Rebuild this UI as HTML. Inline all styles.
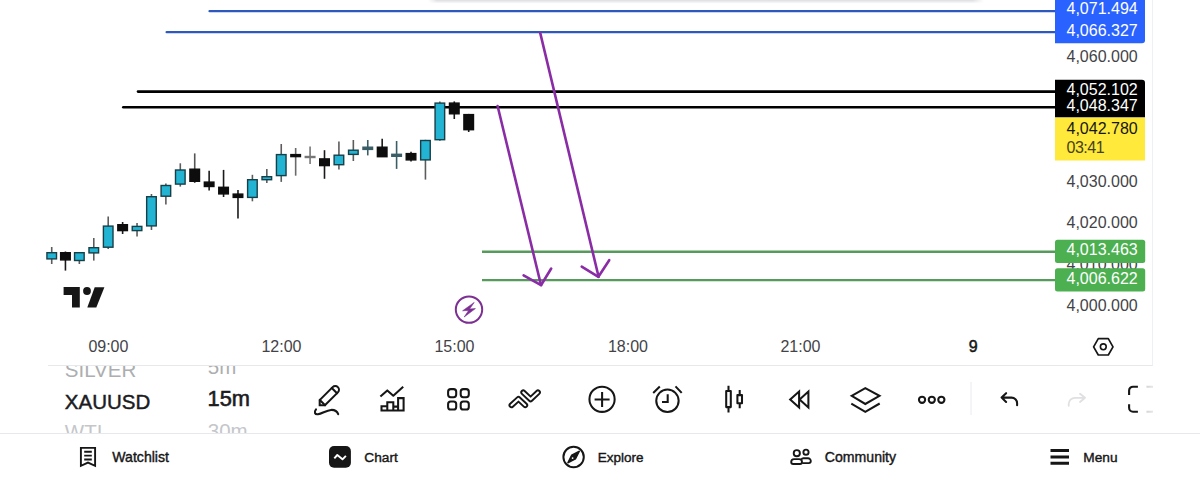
<!DOCTYPE html>
<html><head><meta charset="utf-8">
<style>
html,body{margin:0;padding:0;background:#fff;width:1200px;height:482px;overflow:hidden;}
svg{position:absolute;left:0;top:0;}
text{font-family:"Liberation Sans",sans-serif;}
</style></head><body>
<svg width="1200" height="482" viewBox="0 0 1200 482">
<defs>
<linearGradient id="shv" x1="0" y1="0" x2="0" y2="1">
<stop offset="0" stop-color="#dde0dd"/><stop offset="0.55" stop-color="#f1eff6"/><stop offset="1" stop-color="#fff" stop-opacity="0"/>
</linearGradient>
<linearGradient id="fadeR" x1="0" y1="0" x2="1" y2="0">
<stop offset="0" stop-color="#fff" stop-opacity="0"/><stop offset="0.45" stop-color="#fff" stop-opacity="0.8"/><stop offset="1" stop-color="#fff" stop-opacity="0.9"/>
</linearGradient>
<linearGradient id="shh" x1="428" y1="0" x2="984" y2="0" gradientUnits="userSpaceOnUse">
<stop offset="0" stop-color="#fff" stop-opacity="0"/><stop offset="0.016" stop-color="#fff"/><stop offset="0.98" stop-color="#fff"/><stop offset="1" stop-color="#fff" stop-opacity="0"/>
</linearGradient>
<mask id="shm" maskUnits="userSpaceOnUse" x="0" y="0" width="1200" height="10"><rect x="428" y="0" width="556" height="4" fill="url(#shh)"/></mask>
</defs>
<!-- top popup shadow -->
<rect x="428" y="0" width="556" height="4" fill="url(#shv)" mask="url(#shm)"/>
<!-- right axis border -->
<line x1="1152.5" y1="0" x2="1152.5" y2="366" stroke="#eef0f3" stroke-width="1"/>
<!-- horizontal lines -->
<line x1="209.5" y1="11.2" x2="1056" y2="11.2" stroke="#2e58bd" stroke-width="2.2" stroke-linecap="round"/>
<line x1="166.6" y1="32.2" x2="1056" y2="32.2" stroke="#2e58bd" stroke-width="2.2" stroke-linecap="round"/>
<line x1="138" y1="91.6" x2="1056" y2="91.6" stroke="#000" stroke-width="2.6" stroke-linecap="round"/>
<line x1="123.3" y1="107.2" x2="1056" y2="107.2" stroke="#000" stroke-width="2.6" stroke-linecap="round"/>
<line x1="482" y1="251.8" x2="1056" y2="251.8" stroke="#569b5b" stroke-width="2.4"/>
<line x1="482" y1="280.1" x2="1056" y2="280.1" stroke="#569b5b" stroke-width="2.4"/>
<line x1="51.72" y1="247" x2="51.72" y2="264" stroke="#5c5c5c" stroke-width="1.6"/>
<rect x="46.92" y="252.7" width="9.60" height="6.20" fill="#22b4d2" stroke="#173f48" stroke-width="1.4"/>
<line x1="65.44" y1="251.5" x2="65.44" y2="270.6" stroke="#1a1a1a" stroke-width="1.6"/>
<rect x="60.64" y="252.7" width="9.60" height="7.20" fill="#0d0d0d" stroke="#0d0d0d" stroke-width="1.4"/>
<line x1="79.36" y1="252" x2="79.36" y2="264" stroke="#5c5c5c" stroke-width="1.6"/>
<rect x="74.56" y="252.7" width="9.60" height="7.80" fill="#22b4d2" stroke="#173f48" stroke-width="1.4"/>
<line x1="93.78" y1="238" x2="93.78" y2="260.6" stroke="#5c5c5c" stroke-width="1.6"/>
<rect x="88.98" y="247.7" width="9.60" height="5.20" fill="#22b4d2" stroke="#173f48" stroke-width="1.4"/>
<line x1="108.20" y1="216.6" x2="108.20" y2="249" stroke="#5c5c5c" stroke-width="1.6"/>
<rect x="103.40" y="226.1" width="9.60" height="21.10" fill="#22b4d2" stroke="#173f48" stroke-width="1.4"/>
<line x1="122.62" y1="222" x2="122.62" y2="234" stroke="#1a1a1a" stroke-width="1.6"/>
<rect x="117.82" y="224.7" width="9.60" height="5.90" fill="#0d0d0d" stroke="#0d0d0d" stroke-width="1.4"/>
<line x1="137.04" y1="223" x2="137.04" y2="236.5" stroke="#5c5c5c" stroke-width="1.6"/>
<rect x="132.24" y="226.39999999999998" width="9.60" height="4.20" fill="#22b4d2" stroke="#173f48" stroke-width="1.4"/>
<line x1="151.46" y1="194" x2="151.46" y2="230" stroke="#5c5c5c" stroke-width="1.6"/>
<rect x="146.66" y="196.7" width="9.60" height="29.20" fill="#22b4d2" stroke="#173f48" stroke-width="1.4"/>
<line x1="165.88" y1="183.5" x2="165.88" y2="204.4" stroke="#5c5c5c" stroke-width="1.6"/>
<rect x="161.08" y="185.5" width="9.60" height="10.70" fill="#22b4d2" stroke="#173f48" stroke-width="1.4"/>
<line x1="180.30" y1="163.3" x2="180.30" y2="186.6" stroke="#5c5c5c" stroke-width="1.6"/>
<rect x="175.50" y="170.0" width="9.60" height="14.10" fill="#22b4d2" stroke="#173f48" stroke-width="1.4"/>
<line x1="194.72" y1="153.4" x2="194.72" y2="183" stroke="#555" stroke-width="1.6"/>
<rect x="189.92" y="169.2" width="9.60" height="12.10" fill="#0d0d0d" stroke="#0d0d0d" stroke-width="1.4"/>
<line x1="209.14" y1="170.8" x2="209.14" y2="190.4" stroke="#1a1a1a" stroke-width="1.6"/>
<rect x="204.34" y="182.1" width="9.60" height="4.40" fill="#0d0d0d" stroke="#0d0d0d" stroke-width="1.4"/>
<line x1="223.56" y1="169.9" x2="223.56" y2="197" stroke="#1a1a1a" stroke-width="1.6"/>
<rect x="218.76" y="187.29999999999998" width="9.60" height="6.60" fill="#0d0d0d" stroke="#0d0d0d" stroke-width="1.4"/>
<line x1="237.98" y1="190" x2="237.98" y2="218.6" stroke="#1a1a1a" stroke-width="1.6"/>
<rect x="233.18" y="194.1" width="9.60" height="3.30" fill="#0d0d0d" stroke="#0d0d0d" stroke-width="1.4"/>
<line x1="252.40" y1="174.8" x2="252.40" y2="201.3" stroke="#5c5c5c" stroke-width="1.6"/>
<rect x="247.60" y="179.7" width="9.60" height="17.70" fill="#22b4d2" stroke="#173f48" stroke-width="1.4"/>
<line x1="266.82" y1="169" x2="266.82" y2="183" stroke="#5c5c5c" stroke-width="1.6"/>
<rect x="262.02" y="176.7" width="9.60" height="3.00" fill="#22b4d2" stroke="#173f48" stroke-width="1.4"/>
<line x1="281.24" y1="144" x2="281.24" y2="181.9" stroke="#5c5c5c" stroke-width="1.6"/>
<rect x="276.44" y="154.6" width="9.60" height="21.00" fill="#22b4d2" stroke="#173f48" stroke-width="1.4"/>
<line x1="295.66" y1="148" x2="295.66" y2="175.7" stroke="#6a6a6a" stroke-width="1.6"/>
<rect x="290.86" y="154.6" width="9.60" height="2.00" fill="#0d0d0d" stroke="#0d0d0d" stroke-width="1.4"/>
<line x1="310.08" y1="146.4" x2="310.08" y2="164" stroke="#777" stroke-width="1.6"/>
<rect x="305.28" y="156.5" width="9.60" height="1.00" fill="#777" stroke="#777" stroke-width="1.4"/>
<line x1="324.50" y1="150.2" x2="324.50" y2="178.8" stroke="#1a1a1a" stroke-width="1.6"/>
<rect x="319.70" y="158.89999999999998" width="9.60" height="6.70" fill="#0d0d0d" stroke="#0d0d0d" stroke-width="1.4"/>
<line x1="338.92" y1="141.5" x2="338.92" y2="169.4" stroke="#5c5c5c" stroke-width="1.6"/>
<rect x="334.12" y="155.2" width="9.60" height="9.50" fill="#22b4d2" stroke="#173f48" stroke-width="1.4"/>
<line x1="353.34" y1="140" x2="353.34" y2="161" stroke="#5c5c5c" stroke-width="1.6"/>
<rect x="348.54" y="150.2" width="9.60" height="4.20" fill="#22b4d2" stroke="#173f48" stroke-width="1.4"/>
<line x1="367.76" y1="140" x2="367.76" y2="155.4" stroke="#3a5e66" stroke-width="1.6"/>
<rect x="362.96" y="147.2" width="9.60" height="2.20" fill="#3a5e66" stroke="#3a5e66" stroke-width="1.4"/>
<line x1="382.18" y1="138.7" x2="382.18" y2="156.8" stroke="#1a1a1a" stroke-width="1.6"/>
<rect x="377.38" y="147.2" width="9.60" height="9.50" fill="#0d0d0d" stroke="#0d0d0d" stroke-width="1.4"/>
<line x1="396.60" y1="141" x2="396.60" y2="168.9" stroke="#3a5e66" stroke-width="1.6"/>
<rect x="391.80" y="154.29999999999998" width="9.60" height="2.00" fill="#3a5e66" stroke="#3a5e66" stroke-width="1.4"/>
<line x1="411.02" y1="151.8" x2="411.02" y2="161.6" stroke="#1a1a1a" stroke-width="1.6"/>
<rect x="406.22" y="153.6" width="9.60" height="6.30" fill="#0d0d0d" stroke="#0d0d0d" stroke-width="1.4"/>
<line x1="425.44" y1="139.8" x2="425.44" y2="179.6" stroke="#5c5c5c" stroke-width="1.6"/>
<rect x="420.64" y="140.5" width="9.60" height="19.40" fill="#22b4d2" stroke="#173f48" stroke-width="1.4"/>
<line x1="439.86" y1="101.4" x2="439.86" y2="140.8" stroke="#5c5c5c" stroke-width="1.6"/>
<rect x="435.06" y="103.10000000000001" width="9.60" height="36.60" fill="#22b4d2" stroke="#173f48" stroke-width="1.4"/>
<line x1="454.28" y1="101.4" x2="454.28" y2="119" stroke="#1a1a1a" stroke-width="1.6"/>
<rect x="449.48" y="103.10000000000001" width="9.60" height="10.70" fill="#0d0d0d" stroke="#0d0d0d" stroke-width="1.4"/>
<line x1="468.70" y1="113.9" x2="468.70" y2="132" stroke="#1a1a1a" stroke-width="1.6"/>
<rect x="463.90" y="114.60000000000001" width="9.60" height="15.10" fill="#0d0d0d" stroke="#0d0d0d" stroke-width="1.4"/>
<!-- purple arrows -->
<g stroke="#8a2ca6" stroke-width="2.6" fill="none" stroke-linecap="round" stroke-linejoin="round">
<line x1="497.6" y1="106" x2="541" y2="285"/>
<polyline points="523.6,275.3 541,285.2 551.2,268.5"/>
<line x1="540.2" y1="32.9" x2="598.6" y2="276.8"/>
<polyline points="581.7,266.6 598.4,276.8 609.2,260.2"/>
</g>
<!-- lightning -->
<circle cx="469" cy="309.6" r="13.2" fill="none" stroke="#7d2f92" stroke-width="2"/>
<path d="M474.2,302.4 L462.6,310.8 L468.6,310.4 L464.2,317 L475.4,308.6 L469.6,309 Z" fill="#7d2f92" stroke="#7d2f92" stroke-width="0.6" stroke-linejoin="round"/>
<!-- TV logo -->
<g fill="#161616">
<path d="M63.6,287.1 H79.8 V307.5 H72 V295.1 H63.6 Z"/>
<circle cx="87" cy="291" r="3.9"/>
<path d="M94.7,287.2 H104.4 L96.3,307.5 H87.3 Z"/>
</g>
<!-- price axis text -->
<g font-size="16" fill="#434347" text-anchor="end">
<text x="1137.7" y="62">4,060.000</text>
<text x="1137.7" y="186.5">4,030.000</text>
<text x="1137.7" y="228">4,020.000</text>
<text x="1137.7" y="269.5">4,010.000</text>
<text x="1137.7" y="311">4,000.000</text>
</g>
<!-- label boxes -->
<path d="M1055,0 H1145 V40.3 a3,3 0 0 1 -3,3 H1055 Z" fill="#2962ff"/>
<path d="M1055,117.5 V79.8 H1142 a3,3 0 0 1 3,3 V117.5 Z" fill="#000"/>
<rect x="1055" y="117.5" width="90" height="43" fill="#ffe93b"/>
<rect x="1055" y="239.7" width="90.2" height="23.2" rx="2.5" fill="#4caf50"/>
<rect x="1055" y="268.3" width="90.2" height="23.2" rx="2.5" fill="#4caf50"/>
<g font-size="16" fill="#fff" text-anchor="end">
<text x="1137.7" y="14.3">4,071.494</text>
<text x="1137.7" y="35.5">4,066.327</text>
<text x="1137.7" y="95">4,052.102</text>
<text x="1137.7" y="110.7">4,048.347</text>
</g>
<g font-size="16" fill="#fff" text-anchor="end">
<text x="1137.7" y="255.3">4,013.463</text>
<text x="1137.7" y="283.6">4,006.622</text>
</g>
<g font-size="16" fill="#161616" text-anchor="end">
<text x="1137.7" y="133.5">4,042.780</text>
</g>
<text x="1066.5" y="153.4" font-size="16" fill="#45411f" letter-spacing="-0.5">03:41</text>
<!-- time axis -->
<g font-size="16" fill="#434347" text-anchor="middle">
<text x="108.4" y="352.3">09:00</text>
<text x="281.5" y="352.3">12:00</text>
<text x="454.5" y="352.3">15:00</text>
<text x="628" y="352.3">18:00</text>
<text x="800.5" y="352.3">21:00</text>
<text x="973.3" y="352.3" fill="#161616" stroke="#161616" stroke-width="0.5">9</text>
</g>
<!-- settings hex -->
<path d="M1098.3,338.6 H1108.3 L1113,346.8 L1108.3,355 H1098.3 L1093.6,346.8 Z" fill="none" stroke="#161616" stroke-width="1.7" stroke-linejoin="round"/>
<circle cx="1103.3" cy="346.8" r="2.9" fill="none" stroke="#161616" stroke-width="1.6"/>
<!-- separators -->
<line x1="48" y1="365.5" x2="1152.5" y2="365.5" stroke="#e6e8ec" stroke-width="1"/>
<line x1="0" y1="433.5" x2="1200" y2="433.5" stroke="#e6e8ec" stroke-width="1"/>

<!-- symbol list -->
<clipPath id="symclip"><rect x="0" y="366" width="1200" height="67"/></clipPath>
<g clip-path="url(#symclip)">
<g font-size="20.5">
<text x="64.8" y="376.5" fill="#acaeb0">SILVER</text>
<text x="64.8" y="409.2" fill="#1c1c1f" stroke="#1c1c1f" stroke-width="0.45">XAUUSD</text>
<text x="64.8" y="439.2" fill="#c4c6ca">WTI</text>
<text x="207.8" y="373.6" fill="#acaeb0">5m</text>
<text x="207.6" y="406.3" fill="#1c1c1f" stroke="#1c1c1f" stroke-width="0.6" font-size="21.8">15m</text>
<text x="207.8" y="437.7" fill="#c4c6ca">30m</text>
</g>
</g>
<g fill="none" stroke="#161616" stroke-width="2.05" stroke-linecap="round" stroke-linejoin="round">
<!-- pencil -->
<g transform="translate(319.7,405.3) rotate(-45)">
<path d="M0,0 L3.7,-3.7 H22 A3.7,3.7 0 0 1 22,3.7 H3.7 Z" stroke-linejoin="miter"/>
<line x1="3.9" y1="-3.7" x2="3.9" y2="3.7"/>
<line x1="20.8" y1="-3.7" x2="20.8" y2="3.7"/>
</g>
<path d="M316,409.3 C313.8,412.2 314.8,414.6 318,414.2 C322,413.6 326.5,410.2 331,409.9 C335,409.7 337.4,412 338.2,414.2"/>
<!-- chart -->
<polyline points="380.4,396.6 387.3,390.4 393.3,395.7 403.2,386.7" stroke-linecap="butt"/>
<path d="M381.5,410.4 V406.3 H387.3 V402.2 H393.3 V406.6 H398.1 V398.1 H403.6 V410.4 Z M387.3,406.3 V410.4 M393.3,406.6 V410.4 M398.1,406.6 V410.4" stroke-linejoin="miter" stroke-linecap="butt"/>
<!-- grid -->
<rect x="448.1" y="389.1" width="8.1" height="8.1" rx="2.6"/>
<rect x="460.7" y="389.1" width="8.1" height="8.1" rx="2.6"/>
<rect x="448.1" y="401.4" width="8.1" height="8.1" rx="2.6"/>
<rect x="460.7" y="401.4" width="8.1" height="8.1" rx="2.6"/>
<!-- plus circle -->
<circle cx="602.05" cy="399.25" r="12.6"/>
<path d="M594.6,399.4 H609.6 M602.1,392 V407" stroke-linecap="butt"/>
<!-- alarm -->
<circle cx="667.45" cy="400.8" r="11.2"/>
<path d="M667.7,394.2 V401.9 H662" stroke-linecap="butt" stroke-linejoin="miter"/>
<path d="M653.2,392.9 L659.8,386.4 M675.5,386.4 L681.7,392.9" stroke-linecap="butt"/>
<!-- candles icon -->
<rect x="726.2" y="390.9" width="4.6" height="16.2"/>
<rect x="737.4" y="395.1" width="4.6" height="8.2"/>
<path d="M728.5,385.8 V390.9 M728.5,407.1 V412.5 M739.7,390 V395.1 M739.7,403.3 V408.3" stroke-linecap="butt"/>
<!-- rewind -->
<path d="M799.1,391.6 V407.4 L790.2,399.5 Z M808.4,391.6 V407.4 L799.6,399.5 Z" stroke-linejoin="miter"/>
<!-- layers -->
<path d="M851.7,395.8 L865.3,388.1 L879.5,395.8 L865.3,404 Z" stroke-linejoin="miter"/>
<polyline points="851.3,403.6 865.3,411.9 879.7,403.5" stroke-linecap="butt" stroke-linejoin="miter"/>
<!-- dots -->
<circle cx="922.05" cy="399.75" r="3.1"/>
<circle cx="931.8" cy="399.75" r="3.1"/>
<circle cx="941.35" cy="399.75" r="3.1"/>
<!-- undo -->
<path d="M1006.1,393.2 L1001.6,397.6 L1006.1,402 M1001.8,397.6 H1011.5 A5.6,5.6 0 0 1 1017.1,403.2 V405.2" stroke-linecap="round"/>
<!-- fullscreen -->
<path d="M1137.9,386.7 H1133 A3.9,3.9 0 0 0 1129.1,390.6 V395 M1129.1,404.2 V407.8 A3.9,3.9 0 0 0 1133,411.7 H1137.9 M1146.5,386.7 H1152 A3.9,3.9 0 0 1 1155.9,390.6 V395 M1155.9,404.2 V407.8 A3.9,3.9 0 0 1 1152,411.7 H1146.5" stroke-width="2.1" stroke-linecap="butt"/>
</g>
<!-- zigzag (outlined capsule) -->
<g fill="none" stroke-linecap="round" stroke-linejoin="round">
<polyline points="511.5,405.2 518.5,398.9 525.2,405.2" stroke="#161616" stroke-width="5.9"/>
<polyline points="523.3,392.4 530.6,399.3 537.9,392.4" stroke="#161616" stroke-width="5.9"/>
<polyline points="511.5,405.2 518.5,398.9 525.2,405.2" stroke="#fff" stroke-width="2.1"/>
<polyline points="523.3,392.4 530.6,399.3 537.9,392.4" stroke="#fff" stroke-width="2.1"/>
</g>
<!-- redo (disabled) -->
<path d="M1080,393.7 L1085,397.7 L1080,402 M1084.6,397.8 H1075 A6.3,6.3 0 0 0 1068.7,404.1 V405.8" fill="none" stroke="#dfe0e2" stroke-width="1.8" stroke-linecap="round" stroke-linejoin="round"/>
<!-- separator -->
<line x1="971" y1="382" x2="971" y2="415" stroke="#e9eaed" stroke-width="1"/>
<!-- right fade -->
<rect x="1139" y="370" width="14" height="60" fill="url(#fadeR)"/>
<rect x="1153" y="366" width="47" height="67" fill="#fff"/>

<!-- bottom nav -->
<g fill="none" stroke="#161616" stroke-width="1.9">
<path d="M80.9,447.9 H95.1 V465.8 L88,462.6 L80.9,465.8 Z" stroke-linejoin="miter"/>
<path d="M84.2,451.8 H91.8 M84.2,455.6 H91.8 M84.2,459.5 H91.8"/>
</g>
<rect x="329" y="446" width="21.9" height="21.75" rx="5" fill="#161616"/>
<polyline points="334.3,458.4 337.3,455 342.5,459.3 345.9,455.8" fill="none" stroke="#fff" stroke-width="1.9" stroke-linejoin="round"/>
<circle cx="573.6" cy="457" r="10.2" fill="none" stroke="#161616" stroke-width="2"/>
<path d="M579.4,451.2 L575.5,458.9 L567.8,462.8 L571.7,455.1 Z" fill="#161616" stroke="#161616" stroke-width="1.3" stroke-linejoin="round"/>
<circle cx="572.6" cy="458.1" r="0.9" fill="#fff"/>
<g fill="none" stroke="#161616" stroke-width="1.9">
<circle cx="796.8" cy="453.2" r="3.1"/>
<circle cx="806" cy="452.2" r="2.6"/>
<path d="M793.2,464 A2,2 0 0 1 791.2,462 A2.9,2.9 0 0 1 794.1,459.1 H799.1 A2.9,2.9 0 0 1 802,462 A2,2 0 0 1 800,464 Z"/>
<path d="M802.2,463.1 H808.8 A2,2 0 0 0 810.8,461.1 A2.8,2.8 0 0 0 808,458.3 H803.8 A2.8,2.8 0 0 0 801.2,459.5"/>
</g>
<path d="M1050.5,450.4 H1069 M1050.5,456.9 H1069 M1050.5,463.3 H1069" stroke="#161616" stroke-width="3"/>
<g font-size="13.7" fill="#161616" stroke="#161616" stroke-width="0.4">
<text x="112.3" y="462.2" font-size="14.1">Watchlist</text>
<text x="364.3" y="462.1">Chart</text>
<text x="597.7" y="462.4" font-size="13.5">Explore</text>
<text x="824.8" y="462.2" font-size="14.1">Community</text>
<text x="1083.3" y="462.3">Menu</text>
</g>
</svg>
</body></html>
